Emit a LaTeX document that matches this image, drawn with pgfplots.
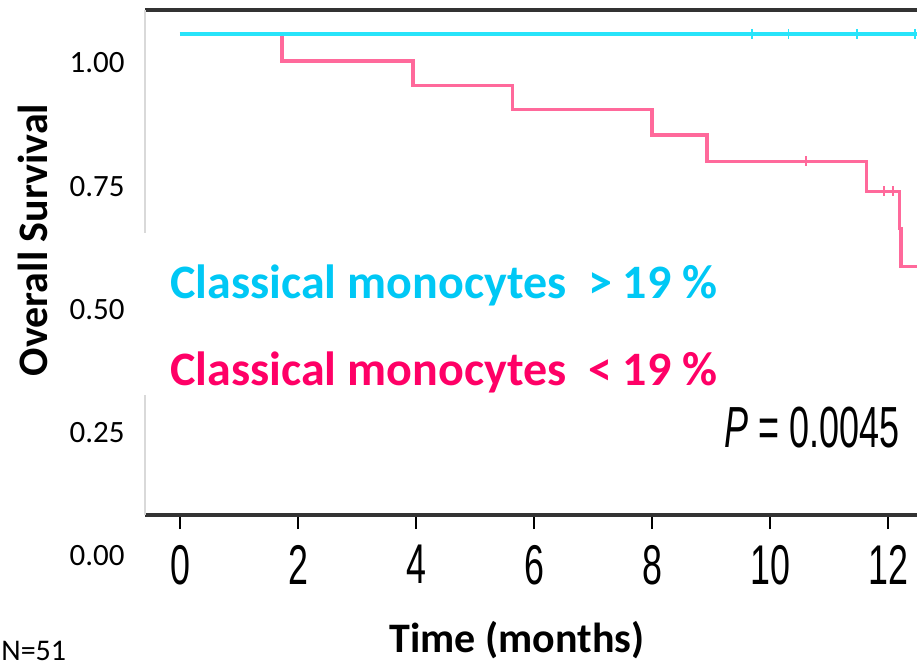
\documentclass[border=0pt]{standalone}
\usepackage{fontspec}
\setmainfont{Carlito}
\newfontfamily\helv{Liberation Sans}
\usepackage{graphicx}
\usepackage{pgfplots}
\pgfplotsset{compat=1.18}
\definecolor{cyanline}{RGB}{40,228,250}
\definecolor{pinkline}{RGB}{255,105,155}
\definecolor{cyantext}{RGB}{0,200,245}
\definecolor{pinktext}{RGB}{255,0,102}
\newcommand\xt[1]{\scalebox{0.64}[1]{#1}}
\begin{document}
\begin{tikzpicture}
\useasboundingbox (0pt,-333pt) rectangle (458.5pt,0pt);
\clip (0pt,-333pt) rectangle (458.5pt,0pt);
% y tick labels (label scale)
\begin{axis}[at={(72.5pt,-290.3pt)}, anchor=south west, scale only axis,
  width=386pt, height=285.3pt,
  xmin=0, xmax=1, ymin=-0.05, ymax=1.1075,
  axis line style={draw=none}, xtick=\empty,
  ytick={0,0.25,0.5,0.75,1}, yticklabels={0.00,0.25,0.50,0.75,1.00},
  major tick length=0pt,
  yticklabel style={anchor=east, inner sep=0pt, xshift=-10pt, font=\fontsize{15.5}{18}\selectfont}]
\end{axis}
% main plot
\begin{axis}[at={(72.5pt,-257.5pt)}, anchor=south west, scale only axis,
  width=386pt, height=252.5pt,
  xmin=-0.593, xmax=12.49, ymin=0.0832, ymax=1.1075,
  clip=false,
  axis line style={draw=none},
  xtick={0,2,4,6,8,10,12},
  xticklabels={\xt{0},\xt{2},\xt{4},\xt{6},\xt{8},\xt{10},\xt{12}},
  xtick pos=bottom, ytick=\empty, tick align=outside, major tick length=7pt,
  x tick style={black, line width=1pt},
  xticklabel style={font=\helv\fontsize{28}{30}\selectfont, anchor=north, inner sep=0pt, yshift=-8pt},
  xlabel={\textbf{Time (months)}},
  xlabel style={at={(axis description cs:0.482,-0.2475)}, anchor=center, font=\fontsize{21}{24}\selectfont},
  ylabel={\textbf{Overall Survival}},
  ylabel style={at={(axis description cs:-0.145,0.5446)}, anchor=center, font=\fontsize{21}{24}\selectfont}]
\draw[black!80, line width=1.6pt] (rel axis cs:0,1) -- (rel axis cs:1,1);
\draw[black!80, line width=1.8pt] (rel axis cs:0,0) -- (rel axis cs:1,0);
\draw[black!15, line width=0.6pt] (rel axis cs:0,1) -- (rel axis cs:0,0.5584);
\draw[black!15, line width=0.6pt] (rel axis cs:0,0.2376) -- (rel axis cs:0,0);
\addplot[const plot, pinkline, line width=1.6pt] coordinates {
  (0,1.059) (1.73,1.004) (3.95,0.955) (5.63,0.905) (8.0,0.854) (8.93,0.801)
  (11.63,0.740) (12.19,0.665) (12.22,0.588) (12.49,0.588)};
\addplot[cyanline, line width=1.6pt] coordinates {(0,1.059) (12.49,1.059)};
\addplot[only marks, mark=|, mark size=2.5pt, cyanline, mark options={line width=0.8pt}] coordinates {
  (9.69,1.059) (10.31,1.059) (11.47,1.059) (12.46,1.059)};
\addplot[only marks, mark=|, mark size=2.5pt, pinkline, mark options={line width=0.8pt}] coordinates {
  (10.61,0.801) (11.93,0.740) (12.08,0.740)};
\end{axis}
\node[anchor=base west, inner sep=0pt, text=cyantext, font=\bfseries\fontsize{24}{28}\selectfont] at (85pt,-149pt) {Classical monocytes\ \ > 19 \%};
\node[anchor=base west, inner sep=0pt, text=pinktext, font=\bfseries\fontsize{24}{28}\selectfont] at (85pt,-192.5pt) {Classical monocytes\ \ < 19 \%};
\node[anchor=base west, inner sep=0pt, font=\helv\fontsize{29}{32}\selectfont] at (362pt,-223.5pt) {\scalebox{0.62}[1]{\textit{P} = 0.0045}};
\node[anchor=base west, inner sep=0pt, font=\fontsize{15}{18}\selectfont] at (0.5pt,-330pt) {N=51};
\end{tikzpicture}
\end{document}
